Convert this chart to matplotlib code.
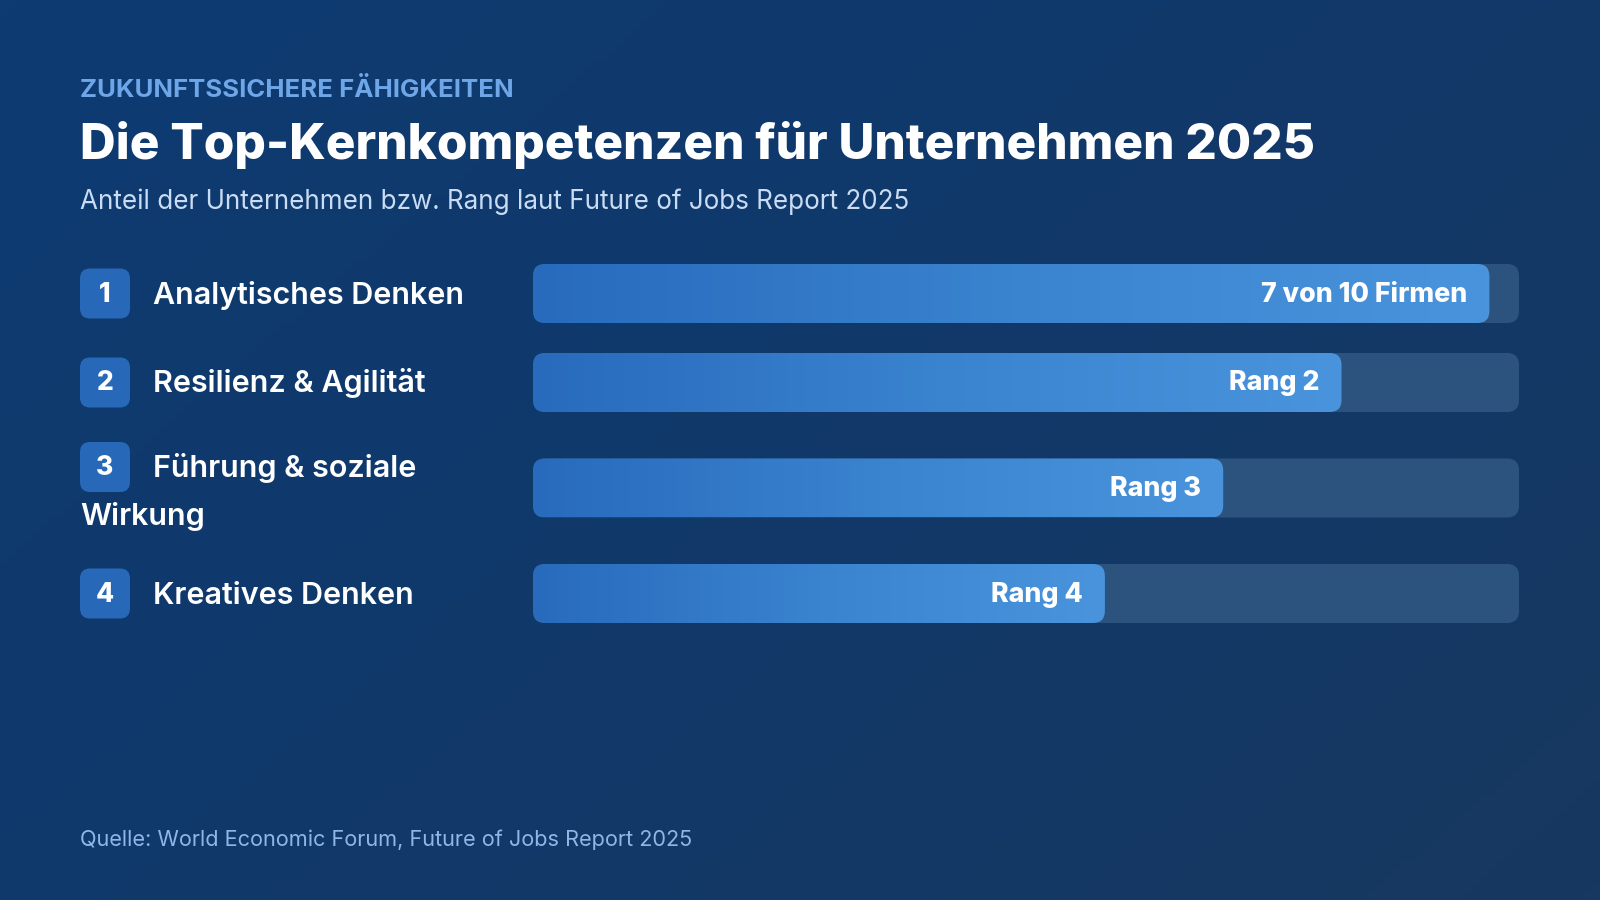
import numpy as np
import matplotlib.pyplot as plt
from matplotlib.patches import FancyBboxPatch
from matplotlib.colors import LinearSegmentedColormap

# --- data ---
ranks = [1, 2, 3, 4]
skills = ["Analytisches Denken", "Resilienz & Agilität", "Führung & soziale\nWirkung", "Kreatives Denken"]
bar_values = [97, 82, 70, 58]          # filled share of the track (%)
bar_labels = ["7 von 10 Firmen", "Rang 2", "Rang 3", "Rang 4"]

eyebrow = "ZUKUNFTSSICHERE FÄHIGKEITEN"
title = "Die Top-Kernkompetenzen für Unternehmen 2025"
subtitle = "Anteil der Unternehmen bzw. Rang laut Future of Jobs Report 2025"
source = "Quelle: World Economic Forum, Future of Jobs Report 2025"

plt.rcParams['font.family'] = ['Inter', 'DejaVu Sans']

W, H = 1600, 900
fig = plt.figure(figsize=(16, 9), dpi=100)

# background axes in pixel units
bg = fig.add_axes([0, 0, 1, 1])
bg.axis('off')
xx, yy = np.meshgrid(np.linspace(0, 1, 200), np.linspace(0, 1, 120))
bg_cmap = LinearSegmentedColormap.from_list('bg', ['#0d3b72', '#11396a', '#173860'])
bg.imshow(xx * 0.6 + yy * 0.4, cmap=bg_cmap, extent=(0, W, H, 0), aspect='auto', zorder=0)
bg.set_xlim(0, W)
bg.set_ylim(H, 0)

renderer = fig.canvas.get_renderer()


def fit_width(txt, width):
    w = txt.get_window_extent(renderer).width
    txt.set_fontsize(txt.get_fontsize() * width / w)
    return txt.get_fontsize()


# --- header ---
t = bg.text(80, 97, eyebrow, color='#6ea6e8', fontsize=16, weight='bold', va='baseline')
fit_width(t, 433)
t = bg.text(80, 159, title, color='white', fontsize=33, weight='heavy', va='baseline')
fit_width(t, 1236)
t = bg.text(80, 209, subtitle, color='#c9dcf4', fontsize=17, va='baseline')
fit_width(t, 831)
t = bg.text(80, 846, source, color='#8fb6e6', fontsize=16, va='baseline')
fit_width(t, 615)

# --- rows ---
track_left, track_right = 533, 1519
ax = fig.add_axes([track_left / W, 0, (track_right - track_left) / W, 1])
ax.axis('off')
px_per_unit = (track_right - track_left) / 100.0
bar_h = 59
radius = 12
gap = 30
line_step = 48
bar_cmap = LinearSegmentedColormap.from_list('bar', ['#286bbd', '#3a83cf', '#4a94dd'])
grad = np.linspace(0, 1, 256).reshape(1, -1)

label_size = None
value_size = None
top = 264
for rank, skill, val, lab in zip(ranks, skills, bar_values, bar_labels):
    lines = skill.split('\n')
    row_h = bar_h if len(lines) == 1 else bar_h + line_step * (len(lines) - 1) - 15
    cy = top + row_h / 2
    badge_cy = cy if len(lines) == 1 else top + 25

    # badge + label
    bg.add_patch(FancyBboxPatch((80, badge_cy - 25), 50, 50,
                                boxstyle='round,pad=0,rounding_size=10',
                                fc='#2868b8', ec='none', zorder=2))
    bg.text(105, badge_cy + 1, str(rank), color='white', fontsize=19, weight='heavy',
            ha='center', va='center', zorder=3)
    t = bg.text(153, badge_cy + 10, lines[0], color='white', fontsize=22,
                weight='semibold', va='baseline', zorder=3)
    if label_size is None:
        label_size = fit_width(t, 311)
    else:
        t.set_fontsize(label_size)
    for i, extra in enumerate(lines[1:], start=1):
        bg.text(80, badge_cy + 10 + line_step * i, extra, color='white', fontsize=label_size,
                weight='semibold', va='baseline', zorder=3)

    # track
    ax.add_patch(FancyBboxPatch((0, cy - bar_h / 2), 100, bar_h,
                                boxstyle=f'round,pad=0,rounding_size={radius / px_per_unit}',
                                mutation_aspect=px_per_unit, fc='#2c527e', ec='none', zorder=1))
    # gradient fill
    clip = FancyBboxPatch((0, cy - bar_h / 2), val, bar_h,
                          boxstyle=f'round,pad=0,rounding_size={radius / px_per_unit}',
                          mutation_aspect=px_per_unit, fc='none', ec='none', zorder=2)
    ax.add_patch(clip)
    im = ax.imshow(grad, cmap=bar_cmap, extent=(0, val, cy + bar_h / 2, cy - bar_h / 2),
                   aspect='auto', zorder=2)
    im.set_clip_path(clip)
    t = ax.text(val - 22 / px_per_unit, cy + 1, lab, color='white', fontsize=19, weight='heavy',
                ha='right', va='center', zorder=3)
    if value_size is None:
        value_size = fit_width(t, 206)
    else:
        t.set_fontsize(value_size)

    top += row_h + gap

ax.set_xlim(0, 100)
ax.set_ylim(H, 0)

fig.savefig('out.png', dpi=100)
